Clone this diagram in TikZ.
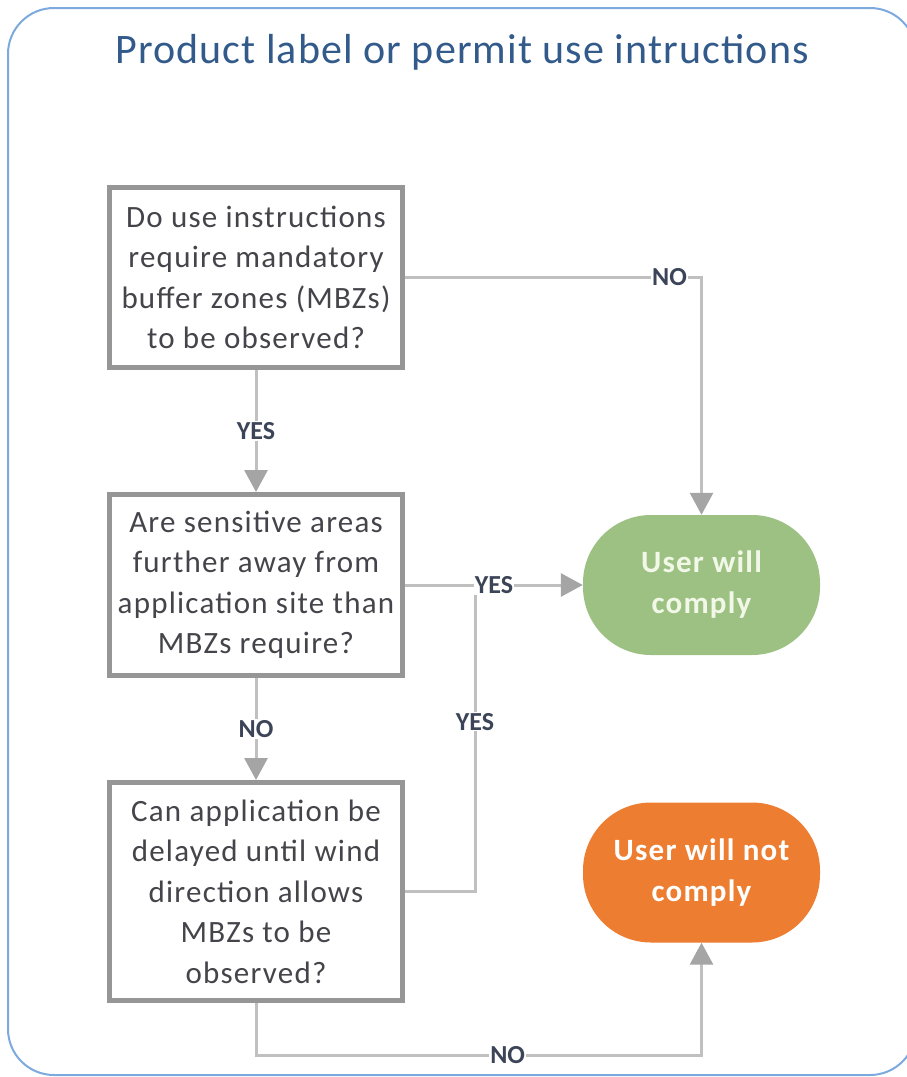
\documentclass[tikz,border=0pt]{standalone}
\usepackage{fontspec}
\setmainfont{Carlito}
\newfontfamily\headfont[LetterSpace=2.6]{Carlito}
\newfontfamily\bodyfont[LetterSpace=4]{Carlito}
\usetikzlibrary{arrows.meta}

\definecolor{framecol}{RGB}{125,170,222}
\definecolor{titlecol}{RGB}{50,90,138}
\definecolor{boxline}{RGB}{150,150,150}
\definecolor{boxtext}{RGB}{68,68,74}
\definecolor{linecol}{RGB}{192,192,192}
\definecolor{tipcol}{RGB}{165,165,165}
\definecolor{labcol}{RGB}{60,68,88}
\definecolor{okgreen}{RGB}{157,193,131}
\definecolor{okorange}{RGB}{237,125,49}

\begin{document}
\begin{tikzpicture}[x=1pt,y=-1pt,
  question/.style={draw=boxline, line width=5pt, fill=white, text=boxtext,
    align=center, minimum width=293pt, inner sep=0pt,
    font=\bodyfont\fontsize{31}{40.5}\selectfont},
  outcome/.style={rounded corners=68pt, minimum width=237pt, minimum height=140pt,
    align=center, font=\bodyfont\bfseries\fontsize{31}{41}\selectfont},
  conn/.style={draw=linecol, line width=3pt,
    -{Triangle[width=23pt,length=22pt,color=tipcol]}},
  plain/.style={draw=linecol, line width=3pt},
  lab/.style={fill=white, text=labcol, font=\bfseries\fontsize{26}{26}\selectfont, inner sep=1pt}
]
\useasboundingbox (0,0) rectangle (907,1077);
\clip (0,0) rectangle (907,1077);

% outer frame and heading
\draw[framecol, line width=2pt, rounded corners=46pt] (8,8) rectangle (916,1075);
\node[text=titlecol, font=\headfont\fontsize{42}{42}\selectfont] (title) at (462,52)
  {Product label or permit use intructions};

% decision boxes
\node[question, minimum height=180pt] (q1) at (256,277.5)
  {Do use instructions\\require mandatory\\buffer zones (MBZs)\\to be observed?};
\node[question, minimum height=181pt] (q2) at (256,585)
  {Are sensitive areas\\further away from\\application site than\\MBZs require?};
\node[question, minimum height=218pt] (q3) at (256,891.5)
  {Can application be\\delayed until wind\\direction allows\\MBZs to be\\observed?};

% outcomes
\node[outcome, fill=okgreen, text={rgb,255:red,242;green,248;blue,232}] (yes) at (701.5,585)
  {User will\\comply};
\node[outcome, fill=okorange, text=white] (no) at (701.5,872.5)
  {User will not\\comply};

% connectors
\coordinate (join) at (475,585);
\coordinate (lowleft) at (256,1055);

\draw[conn] (q1.east) -| node[lab, pos=0.446] {NO} (yes.north);
\draw[conn] (q1) -- node[lab] {YES} (q2);
\draw[plain] (q3.east) -| node[lab, pos=0.777] {YES} (join);
\draw[conn] (q2) -- node[lab] {YES} (yes);
\draw[conn] (q2) -- node[lab] {NO} (q3);
\draw[conn] (q3.south) -- (lowleft) -| node[lab, pos=0.2825] {NO} (no.south);
\end{tikzpicture}
\end{document}
